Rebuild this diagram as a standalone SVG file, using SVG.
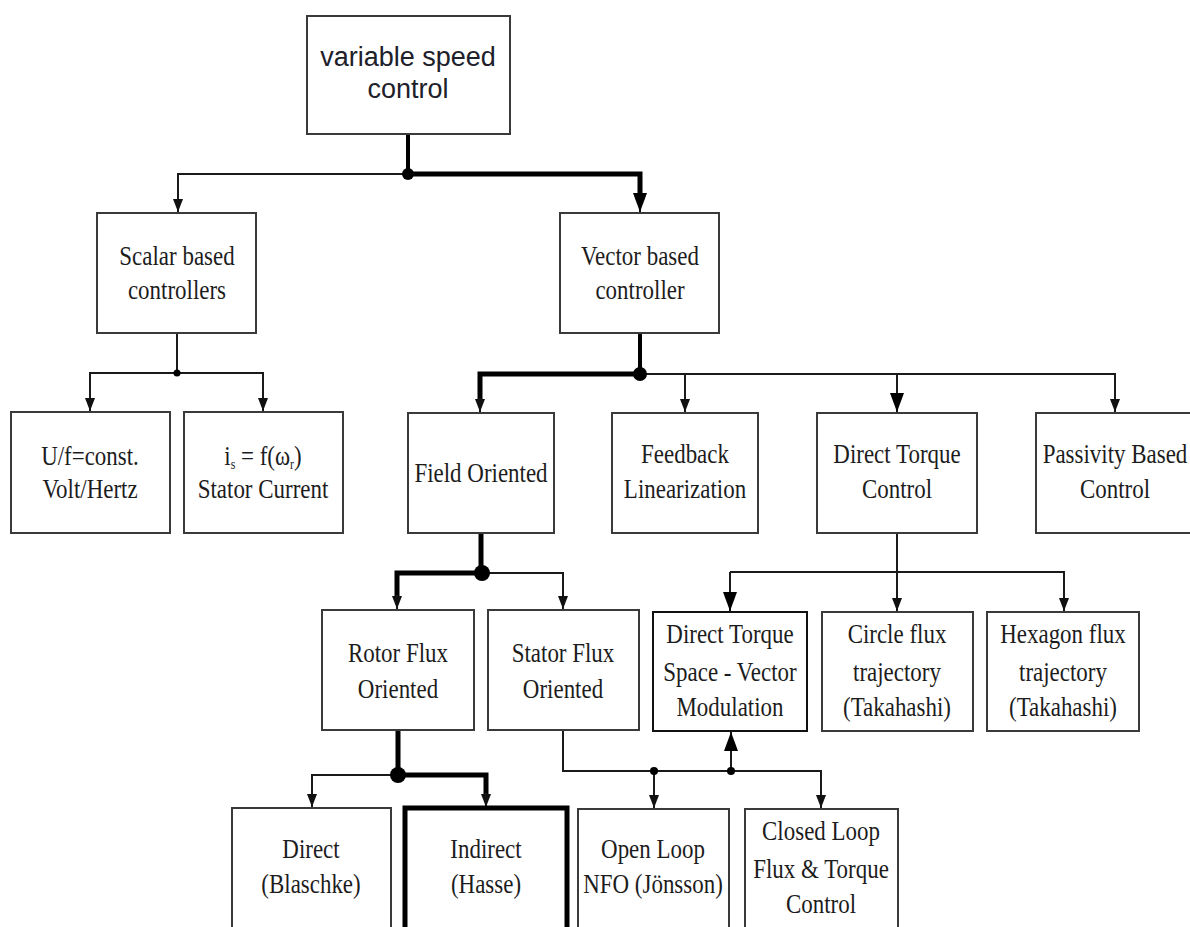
<svg xmlns="http://www.w3.org/2000/svg" width="1190" height="927" viewBox="0 0 1190 927">
<style>
.box{fill:#fff;stroke:#3a3a3a;stroke-width:2}
.dark{stroke:#111}
.bold{stroke:#000;stroke-width:5}
.t{font-family:"Liberation Serif","Times New Roman",serif;font-size:27px;fill:#1c1c1c;text-anchor:middle}
.s{font-family:"Liberation Sans",Arial,sans-serif;font-size:27px;fill:#20202a;text-anchor:middle}
.thin{fill:none;stroke:#1a1a1a;stroke-width:2}
.thick{fill:none;stroke:#000;stroke-width:5}
.dot{fill:#000}
</style>
<defs>
<marker id="as" markerUnits="userSpaceOnUse" markerWidth="14" markerHeight="12" viewBox="0 0 14 12" refX="13" refY="6" orient="auto">
<path d="M0,1 L13,6 L0,11 Z" fill="#111"/>
</marker>
<marker id="al" markerUnits="userSpaceOnUse" markerWidth="20" markerHeight="16" viewBox="0 0 20 16" refX="19" refY="8" orient="auto">
<path d="M0,1 L19,8 L0,15 Z" fill="#000"/>
</marker>
</defs>
<rect width="1190" height="927" fill="#fff"/>
<g id="connectors">
<path class="thick" d="M408,134 V174" style="stroke-width:4"/>
<path class="thin" d="M408,174 H178 V212" marker-end="url(#as)"/>
<path class="thick" d="M408,174 H640 V196"/>
<path class="thin" d="M640,194 V212" marker-end="url(#al)"/>
<path class="thin" d="M177,333 V373 H90 V411" marker-end="url(#as)"/>
<path class="thin" d="M177,373 H263 V411" marker-end="url(#as)"/>
<path class="thick" d="M640,333 V374" style="stroke-width:4"/>
<path class="thick" d="M640,374 H480 V400"/>
<path class="thin" d="M480,398 V412" marker-end="url(#as)"/>
<path class="thin" d="M640,374 H1115 V412" marker-end="url(#as)"/>
<path class="thin" d="M685,374 V412" marker-end="url(#as)"/>
<path class="thin" d="M897,374 V412" marker-end="url(#al)"/>
<path class="thick" d="M481,533 V573 H397 V597"/>
<path class="thin" d="M397,595 V609" marker-end="url(#as)"/>
<path class="thin" d="M481,573 H563 V609" marker-end="url(#as)"/>
<path class="thin" d="M897,533 V611" marker-end="url(#as)"/>
<path class="thin" d="M730,572 H1064 V611" marker-end="url(#as)"/>
<path class="thin" d="M730,572 V611" marker-end="url(#al)"/>
<path class="thick" d="M398,730 V775 H486 V795"/>
<path class="thin" d="M486,793 V807" marker-end="url(#as)"/>
<path class="thin" d="M398,775 H312 V807" marker-end="url(#as)"/>
<path class="thin" d="M563,730 V771 H821 V808" marker-end="url(#as)"/>
<path class="thin" d="M654,771 V808" marker-end="url(#as)"/>
<path class="thin" d="M731,771 V732" marker-end="url(#al)"/>
<circle class="dot" cx="408" cy="174" r="6"/>
<circle class="dot" cx="177" cy="373" r="3.5"/>
<circle class="dot" cx="640" cy="374" r="7"/>
<circle class="dot" cx="482" cy="573" r="8"/>
<circle class="dot" cx="398" cy="775" r="8"/>
<circle class="dot" cx="654" cy="771" r="4"/>
<circle class="dot" cx="731" cy="771" r="4"/>
</g>
<g id="variable-speed-control">
<rect class="box" x="307" y="16" width="203" height="118"/>
<text class="s"><tspan x="408" y="66">variable speed</tspan><tspan x="408" y="98">control</tspan></text>
</g>
<g id="scalar-based">
<rect class="box" x="97" y="213" width="159" height="120"/>
<text class="t" transform="translate(177,0) scale(0.85,1)"><tspan x="0" y="265">Scalar based</tspan><tspan x="0" y="299">controllers</tspan></text>
</g>
<g id="vector-based">
<rect class="box" x="560" y="213" width="159" height="120"/>
<text class="t" transform="translate(640,0) scale(0.85,1)"><tspan x="0" y="265">Vector based</tspan><tspan x="0" y="299">controller</tspan></text>
</g>
<g id="volt-hertz">
<rect class="box" x="11" y="412" width="159" height="121"/>
<text class="t" transform="translate(90,0) scale(0.85,1)"><tspan x="0" y="465">U/f=const.</tspan><tspan x="0" y="498">Volt/Hertz</tspan></text>
</g>
<g id="stator-current">
<rect class="box" x="184" y="412" width="159" height="121"/>
<text class="t" transform="translate(263,0) scale(0.85,1)"><tspan x="0" y="465">i<tspan font-size="14" dy="4">s</tspan><tspan dy="-4"> = f(ω</tspan><tspan font-size="14" dy="4">r</tspan><tspan dy="-4">)</tspan></tspan><tspan x="0" y="498">Stator Current</tspan></text>
</g>
<g id="field-oriented">
<rect class="box" x="408" y="413" width="146" height="120"/>
<text class="t" transform="translate(481,0) scale(0.85,1)"><tspan x="0" y="482">Field Oriented</tspan></text>
</g>
<g id="feedback-linearization">
<rect class="box" x="612" y="413" width="146" height="120"/>
<text class="t" transform="translate(685,0) scale(0.85,1)"><tspan x="0" y="463">Feedback</tspan><tspan x="0" y="498">Linearization</tspan></text>
</g>
<g id="direct-torque-control">
<rect class="box" x="817" y="413" width="160" height="120"/>
<text class="t" transform="translate(897,0) scale(0.85,1)"><tspan x="0" y="463">Direct Torque</tspan><tspan x="0" y="498">Control</tspan></text>
</g>
<g id="passivity-based">
<rect class="box" x="1036" y="413" width="170" height="120"/>
<text class="t" transform="translate(1115,0) scale(0.85,1)"><tspan x="0" y="463">Passivity Based</tspan><tspan x="0" y="498">Control</tspan></text>
</g>
<g id="rotor-flux">
<rect class="box" x="322" y="610" width="152" height="120"/>
<text class="t" transform="translate(398,0) scale(0.85,1)"><tspan x="0" y="662">Rotor Flux</tspan><tspan x="0" y="698">Oriented</tspan></text>
</g>
<g id="stator-flux">
<rect class="box" x="488" y="610" width="151" height="120"/>
<text class="t" transform="translate(563,0) scale(0.85,1)"><tspan x="0" y="662">Stator Flux</tspan><tspan x="0" y="698">Oriented</tspan></text>
</g>
<g id="dtc-svm">
<rect class="box dark" x="653" y="612" width="154" height="119"/>
<text class="t" transform="translate(730,0) scale(0.85,1)"><tspan x="0" y="643">Direct Torque</tspan><tspan x="0" y="681">Space - Vector</tspan><tspan x="0" y="716">Modulation</tspan></text>
</g>
<g id="circle-flux">
<rect class="box" x="822" y="612" width="151" height="119"/>
<text class="t" transform="translate(897,0) scale(0.85,1)"><tspan x="0" y="643">Circle flux</tspan><tspan x="0" y="681">trajectory</tspan><tspan x="0" y="716">(Takahashi)</tspan></text>
</g>
<g id="hexagon-flux">
<rect class="box" x="987" y="612" width="152" height="119"/>
<text class="t" transform="translate(1063,0) scale(0.85,1)"><tspan x="0" y="643">Hexagon flux</tspan><tspan x="0" y="681">trajectory</tspan><tspan x="0" y="716">(Takahashi)</tspan></text>
</g>
<g id="direct-blaschke">
<rect class="box" x="232" y="808" width="159" height="140"/>
<text class="t" transform="translate(311,0) scale(0.85,1)"><tspan x="0" y="858">Direct</tspan><tspan x="0" y="893">(Blaschke)</tspan></text>
</g>
<g id="indirect-hasse">
<rect class="box bold" x="405" y="808" width="162" height="140"/>
<text class="t" transform="translate(486,0) scale(0.85,1)"><tspan x="0" y="858">Indirect</tspan><tspan x="0" y="893">(Hasse)</tspan></text>
</g>
<g id="open-loop">
<rect class="box" x="578" y="809" width="151" height="140"/>
<text class="t" transform="translate(653,0) scale(0.85,1)"><tspan x="0" y="858">Open Loop</tspan><tspan x="0" y="893">NFO (Jönsson)</tspan></text>
</g>
<g id="closed-loop">
<rect class="box" x="745" y="809" width="153" height="140"/>
<text class="t" transform="translate(821,0) scale(0.85,1)"><tspan x="0" y="840">Closed Loop</tspan><tspan x="0" y="878">Flux &amp; Torque</tspan><tspan x="0" y="913">Control</tspan></text>
</g>
</svg>
